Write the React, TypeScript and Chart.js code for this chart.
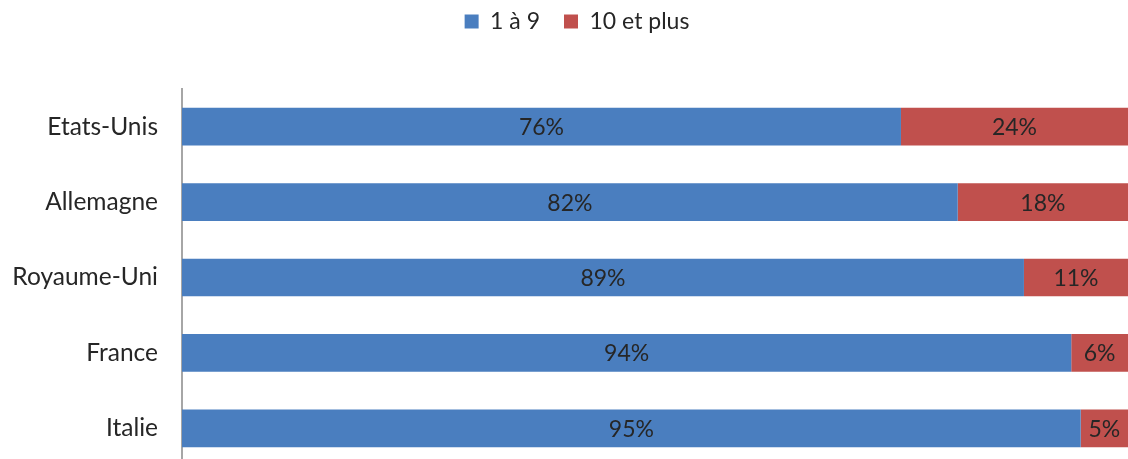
import React, { useEffect, useRef } from "react";
import { Chart, registerables } from "chart.js";

Chart.register(...registerables);

const categories = ["Etats-Unis", "Allemagne", "Royaume-Uni", "France", "Italie"];
const seriesNames = ["1 à 9", "10 et plus"];
const small = [76, 82, 89, 94, 95];
const large = [24, 18, 11, 6, 5];
const colors = ["#4A7EBF", "#C0504D"];

const FONT = "Lato, 'Open Sans', sans-serif";
const TEXT = "#262626";

const labelPlugin = {
  id: "barLabels",
  afterLayout(chart: any) {
    if (chart.legend) {
      chart.legend.left += 13;
      chart.legend.right += 13;
    }
  },
  afterDatasetsDraw(chart: any) {
    const ctx = chart.ctx;
    ctx.save();
    ctx.font = `23px ${FONT}`;
    ctx.fillStyle = TEXT;
    ctx.textAlign = "center";
    ctx.textBaseline = "middle";
    chart.data.datasets.forEach((ds: any, di: number) => {
      const meta = chart.getDatasetMeta(di);
      meta.data.forEach((bar: any, i: number) => {
        const left = Math.min(bar.x, bar.base);
        const right = Math.max(bar.x, bar.base);
        ctx.fillText(ds.data[i] + "%", (left + right) / 2, bar.y + 1);
      });
    });
    ctx.restore();
  },
};

export default function App() {
  const ref = useRef<HTMLCanvasElement>(null);
  useEffect(() => {
    if (!ref.current) return;
    const chart = new Chart(ref.current, {
      type: "bar",
      data: {
        labels: categories,
        datasets: [
          { label: seriesNames[0], data: small, backgroundColor: colors[0], barPercentage: 0.5, categoryPercentage: 1 },
          { label: seriesNames[1], data: large, backgroundColor: colors[1], barPercentage: 0.5, categoryPercentage: 1 },
        ],
      },
      options: {
        indexAxis: "y",
        animation: false,
        responsive: true,
        maintainAspectRatio: false,
        layout: { padding: { top: -14, left: 0, right: 0, bottom: 0 } },
        plugins: {
          tooltip: { enabled: false },
          legend: {
            position: "top",
            labels: {
              boxWidth: 14,
              boxHeight: 14,
              color: TEXT,
              font: { family: FONT, size: 23 },
              padding: 24,
            },
          },
        },
        scales: {
          x: {
            stacked: true,
            min: 0,
            max: 100,
            position: "top",
            grid: { display: false },
            border: { display: false },
            ticks: { display: false },
            afterFit: (s: any) => {
              s.height = 46;
            },
          },
          y: {
            stacked: true,
            grid: { display: false },
            border: { display: true, color: "#A6A6A6", width: 2 },
            ticks: { color: TEXT, font: { family: FONT, size: 24.5 }, padding: 16 },
            afterFit: (s: any) => {
              s.width = 182;
              s.paddingTop = 0;
              s.paddingBottom = 0;
            },
          },
        },
      },
      plugins: [labelPlugin],
    });
    return () => chart.destroy();
  }, []);
  return (
    <div style={{ position: "fixed", left: 0, top: 0, width: 1128, height: 466 }}>
      <canvas ref={ref} />
    </div>
  );
}
